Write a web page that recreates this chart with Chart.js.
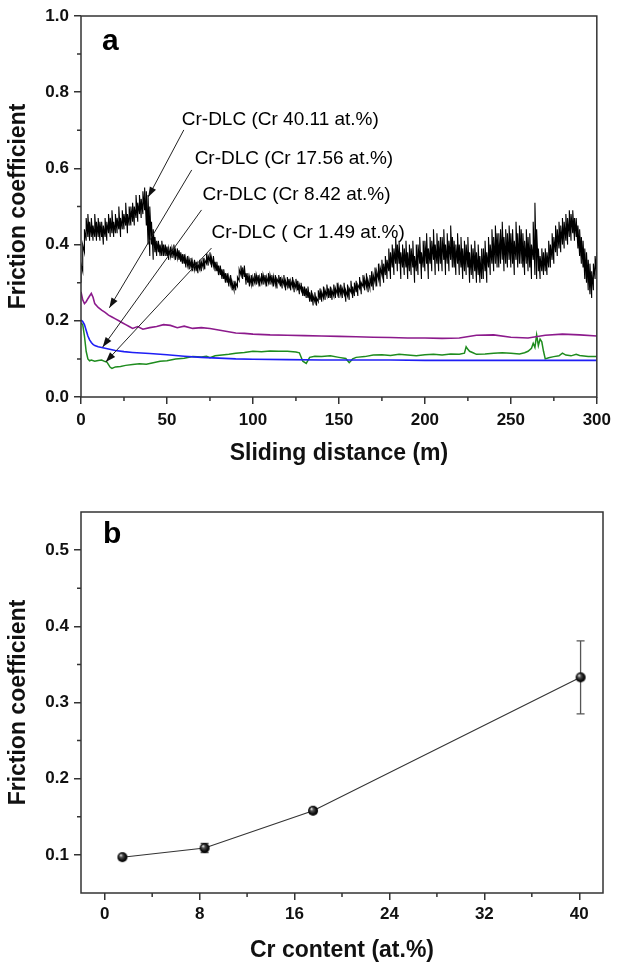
<!DOCTYPE html>
<html><head><meta charset="utf-8">
<script src="https://cdn.jsdelivr.net/npm/chart.js@4.4.1/dist/chart.umd.min.js"></script>
<style>
html,body{margin:0;padding:0;background:#fff;overflow:hidden;width:617px;height:962px;}
#ca{position:absolute;left:0;top:0;}
#cb{position:absolute;left:0;top:482px;}
</style></head><body>
<canvas id="ca" width="617" height="480"></canvas>
<canvas id="cb" width="617" height="482"></canvas>
<script>
// ---------- Panel (a) data: friction coefficient vs sliding distance ----------
// Cr 40.11 at.% trace: per-metre lower / upper envelope of the noisy signal
const blackStep = 1;
const black40Lo = [
0.30,0.33,0.38,0.41,0.42,0.41,0.42,0.41,0.42,0.41,
0.42,0.41,0.42,0.40,0.42,0.41,0.43,0.42,0.43,0.42,
0.43,0.43,0.44,0.42,0.44,0.44,0.45,0.43,0.45,0.45,
0.46,0.45,0.47,0.46,0.48,0.47,0.48,0.49,0.45,0.40,
0.37,0.40,0.36,0.38,0.37,0.38,0.37,0.37,0.37,0.37,
0.37,0.36,0.37,0.365,0.37,0.36,0.365,0.36,0.355,0.35,
0.35,0.34,0.345,0.335,0.34,0.33,0.335,0.33,0.325,0.335,
0.33,0.34,0.335,0.35,0.345,0.355,0.34,0.345,0.33,0.33,
0.32,0.32,0.31,0.31,0.30,0.30,0.29,0.295,0.28,0.28,
0.28,0.29,0.305,0.32,0.31,0.315,0.295,0.30,0.29,0.295,
0.29,0.30,0.295,0.30,0.29,0.30,0.295,0.30,0.29,0.30,
0.295,0.30,0.29,0.295,0.285,0.30,0.29,0.285,0.295,0.28,
0.29,0.285,0.28,0.29,0.275,0.285,0.28,0.27,0.28,0.265,
0.265,0.26,0.26,0.25,0.25,0.24,0.25,0.24,0.25,0.255,
0.25,0.26,0.255,0.265,0.26,0.26,0.255,0.265,0.26,0.27,
0.26,0.27,0.26,0.27,0.25,0.265,0.255,0.275,0.26,0.265,
0.275,0.265,0.285,0.27,0.29,0.28,0.29,0.275,0.285,0.29,
0.28,0.30,0.29,0.31,0.29,0.32,0.30,0.32,0.31,0.33,
0.31,0.34,0.32,0.35,0.33,0.35,0.31,0.34,0.32,0.34,
0.31,0.33,0.32,0.34,0.30,0.33,0.32,0.35,0.31,0.34,
0.33,0.35,0.31,0.35,0.33,0.36,0.32,0.35,0.33,0.35,
0.33,0.36,0.32,0.35,0.33,0.36,0.34,0.34,0.32,0.35,
0.32,0.34,0.31,0.33,0.32,0.34,0.30,0.32,0.31,0.33,
0.30,0.32,0.30,0.31,0.31,0.33,0.30,0.34,0.32,0.35,
0.33,0.35,0.34,0.34,0.35,0.36,0.33,0.35,0.34,0.36,
0.34,0.35,0.32,0.36,0.34,0.35,0.35,0.34,0.32,0.35,
0.33,0.34,0.31,0.36,0.32,0.31,0.33,0.31,0.33,0.32,
0.33,0.32,0.34,0.34,0.36,0.35,0.38,0.37,0.39,0.38,
0.40,0.39,0.41,0.40,0.42,0.41,0.43,0.41,0.42,0.39,
0.37,0.35,0.34,0.31,0.30,0.28,0.27,0.26,0.28,0.31,
0.32];
const black40Hi = [
0.35,0.40,0.44,0.47,0.48,0.46,0.47,0.45,0.48,0.46,
0.47,0.46,0.46,0.45,0.47,0.46,0.48,0.47,0.49,0.46,
0.48,0.47,0.50,0.47,0.49,0.48,0.51,0.48,0.50,0.50,
0.51,0.50,0.53,0.51,0.53,0.52,0.54,0.55,0.54,0.53,
0.50,0.46,0.44,0.42,0.41,0.41,0.40,0.41,0.40,0.40,
0.395,0.39,0.395,0.39,0.40,0.385,0.39,0.385,0.38,0.375,
0.375,0.365,0.37,0.36,0.365,0.355,0.36,0.355,0.35,0.36,
0.355,0.365,0.36,0.375,0.37,0.38,0.365,0.37,0.355,0.355,
0.345,0.345,0.335,0.335,0.325,0.325,0.315,0.32,0.30,0.305,
0.30,0.315,0.335,0.345,0.34,0.345,0.325,0.325,0.315,0.32,
0.315,0.325,0.32,0.32,0.315,0.325,0.32,0.32,0.315,0.325,
0.32,0.32,0.315,0.32,0.31,0.32,0.315,0.31,0.32,0.305,
0.315,0.31,0.305,0.315,0.30,0.31,0.305,0.295,0.30,0.29,
0.29,0.285,0.29,0.275,0.28,0.265,0.275,0.26,0.28,0.285,
0.275,0.29,0.28,0.295,0.285,0.29,0.28,0.295,0.285,0.30,
0.29,0.295,0.285,0.30,0.28,0.295,0.285,0.305,0.29,0.30,
0.305,0.295,0.315,0.30,0.32,0.31,0.325,0.305,0.32,0.33,
0.32,0.34,0.33,0.35,0.34,0.36,0.35,0.37,0.36,0.39,
0.38,0.40,0.39,0.42,0.40,0.41,0.38,0.40,0.39,0.41,
0.38,0.40,0.39,0.41,0.37,0.40,0.40,0.42,0.38,0.41,
0.41,0.43,0.39,0.42,0.41,0.44,0.40,0.43,0.41,0.42,
0.42,0.44,0.40,0.43,0.41,0.45,0.42,0.41,0.40,0.43,
0.40,0.42,0.39,0.41,0.40,0.42,0.38,0.40,0.39,0.41,
0.38,0.40,0.37,0.39,0.39,0.41,0.38,0.42,0.40,0.44,
0.42,0.45,0.43,0.43,0.44,0.46,0.42,0.44,0.43,0.45,
0.43,0.44,0.41,0.46,0.43,0.45,0.44,0.43,0.41,0.44,
0.42,0.43,0.40,0.46,0.51,0.44,0.39,0.37,0.39,0.38,
0.39,0.38,0.41,0.40,0.43,0.42,0.45,0.44,0.46,0.45,
0.47,0.46,0.48,0.47,0.49,0.48,0.49,0.47,0.47,0.45,
0.44,0.42,0.41,0.39,0.38,0.36,0.35,0.33,0.35,0.37,
0.38];

const purple17X = [0,1,2,3,4,5,6,7,8,10,12,14,16,18,20,22,24,26,28,30,33,36,40,44,48,52,56,60,65,70,75,80,85,90,95,100,110,120,130,140,150,160,170,180,190,200,210,220,230,240,250,260,270,280,290,300];
const purple17Y = [0.276,0.255,0.245,0.25,0.258,0.265,0.272,0.262,0.245,0.235,0.228,0.222,0.215,0.21,0.205,0.20,0.195,0.19,0.185,0.18,0.185,0.178,0.182,0.185,0.19,0.188,0.182,0.186,0.18,0.182,0.18,0.176,0.172,0.168,0.167,0.165,0.163,0.162,0.161,0.16,0.159,0.158,0.157,0.156,0.155,0.155,0.154,0.155,0.162,0.163,0.157,0.155,0.162,0.165,0.163,0.160];

const blue8X = [0,1,2,3,4,5,6,7,8,10,12,14,16,20,25,30,40,50,60,70,80,90,100,120,140,160,180,200,220,240,260,280,300];
const blue8Y = [0.202,0.198,0.19,0.175,0.16,0.15,0.143,0.138,0.135,0.132,0.13,0.128,0.126,0.122,0.119,0.117,0.114,0.111,0.107,0.104,0.102,0.1,0.099,0.098,0.097,0.097,0.097,0.096,0.096,0.096,0.096,0.096,0.096];

const green1X = [0,1,2,3,4,5,6,8,10,12,14,15,16,17,18,20,23,26,30,34,38,42,46,50,55,60,65,70,73,75,78,82,86,90,95,100,105,110,115,120,125,127,129,131,133,136,140,145,150,154,156,158,160,165,170,175,180,185,190,195,200,205,210,215,220,223,224,225,226,228,230,235,240,245,250,255,258,260,262,263,264,265,266,267,268,269,270,272,275,278,280,282,285,288,290,295,300];
const green1Y = [0.194,0.19,0.16,0.12,0.10,0.095,0.097,0.094,0.096,0.097,0.093,0.092,0.085,0.078,0.075,0.079,0.08,0.083,0.085,0.087,0.086,0.09,0.094,0.095,0.10,0.102,0.106,0.105,0.107,0.103,0.108,0.11,0.112,0.115,0.117,0.12,0.119,0.121,0.12,0.12,0.118,0.116,0.094,0.088,0.104,0.107,0.106,0.108,0.104,0.101,0.09,0.1,0.104,0.106,0.11,0.111,0.109,0.112,0.11,0.108,0.111,0.112,0.11,0.113,0.112,0.115,0.132,0.125,0.12,0.116,0.112,0.113,0.115,0.116,0.115,0.113,0.116,0.12,0.128,0.141,0.13,0.163,0.135,0.152,0.145,0.12,0.10,0.103,0.106,0.108,0.115,0.11,0.108,0.112,0.109,0.106,0.106];

const aXMajor = [0,50,100,150,200,250,300];
const aXMinor = [25,75,125,175,225,275];
const aYMajor = [0,0.2,0.4,0.6,0.8,1.0];
const aYMinor = [0.1,0.3,0.5,0.7,0.9];
const aLabels = ["Cr-DLC (Cr 40.11 at.%)","Cr-DLC (Cr 17.56 at.%)","Cr-DLC (Cr 8.42 at.%)","Cr-DLC ( Cr 1.49 at.%)"];

// ---------- Panel (b) data: friction coefficient vs Cr content ----------
const crContent = [1.49, 8.42, 17.56, 40.11];
const crFriction = [0.097, 0.109, 0.158, 0.333];
const crError = [0.002, 0.006, 0.003, 0.048];
const bXMajor = [0,8,16,24,32,40];
const bXMinor = [4,12,20,28,36];
const bYMajor = [0.1,0.2,0.3,0.4,0.5];
const bYMinor = [0.15,0.25,0.35,0.45];

// ---------- helpers ----------
const FONT = "'Liberation Sans', Arial, Helvetica, sans-serif";
const AX = '#333';
const pts = (xs, ys) => xs.map((x, i) => ({x: x, y: ys[i]}));
const blackPts = [];
black40Lo.forEach((lo, i) => {
  blackPts.push({x: i * blackStep, y: lo});
  blackPts.push({x: i * blackStep, y: black40Hi[i]});
});

const frameTicks = {
  id: 'frameTicks',
  afterDraw(chart, args, o) {
    const ctx = chart.ctx, a = chart.chartArea, xs = chart.scales.x, ys = chart.scales.y;
    ctx.save();
    ctx.strokeStyle = AX; ctx.lineWidth = 1.5;
    ctx.beginPath();
    o.xMinor.forEach(v => { const p = xs.getPixelForValue(v); ctx.moveTo(p, a.bottom); ctx.lineTo(p, a.bottom + 4); });
    o.yMinor.forEach(v => { const p = ys.getPixelForValue(v); ctx.moveTo(a.left, p); ctx.lineTo(a.left - 4, p); });
    ctx.stroke();
    ctx.strokeRect(a.left, a.top, a.right - a.left, a.bottom - a.top);
    ctx.fillStyle = '#000';
    ctx.font = 'bold 30px ' + FONT;
    ctx.textAlign = 'left'; ctx.textBaseline = 'alphabetic';
    ctx.fillText(o.letter, a.left + o.lx, a.top + o.ly);
    ctx.restore();
  }
};

const arrows = {
  id: 'arrows',
  afterDatasetsDraw(chart, args, o) {
    if (!o.items) return;
    const ctx = chart.ctx, xs = chart.scales.x, ys = chart.scales.y;
    ctx.save();
    ctx.font = '19px ' + FONT; ctx.fillStyle = '#000';
    ctx.textAlign = 'left'; ctx.textBaseline = 'middle';
    o.items.forEach((it, i) => {
      ctx.fillText(aLabels[i], xs.getPixelForValue(it.t[0]), ys.getPixelForValue(it.t[1]));
      const x1 = xs.getPixelForValue(it.s[0]), y1 = ys.getPixelForValue(it.s[1]);
      const x2 = xs.getPixelForValue(it.e[0]), y2 = ys.getPixelForValue(it.e[1]);
      ctx.strokeStyle = '#222'; ctx.lineWidth = 1;
      ctx.beginPath(); ctx.moveTo(x1, y1); ctx.lineTo(x2, y2); ctx.stroke();
      const ang = Math.atan2(y2 - y1, x2 - x1), L = 10, W = 3.5;
      const bx = x2 - L * Math.cos(ang), by = y2 - L * Math.sin(ang);
      ctx.fillStyle = '#111';
      ctx.beginPath(); ctx.moveTo(x2, y2);
      ctx.lineTo(bx + W * Math.sin(ang), by - W * Math.cos(ang));
      ctx.lineTo(bx - W * Math.sin(ang), by + W * Math.cos(ang));
      ctx.closePath(); ctx.fill();
      ctx.fillStyle = '#000';
    });
    ctx.restore();
  }
};

const errBars = {
  id: 'errBars',
  beforeDatasetsDraw(chart) {
    const ctx = chart.ctx, xs = chart.scales.x, ys = chart.scales.y;
    ctx.save(); ctx.strokeStyle = '#555'; ctx.lineWidth = 1.3;
    crContent.forEach((c, i) => {
      const e = crError[i]; const px = xs.getPixelForValue(c);
      const t = ys.getPixelForValue(crFriction[i] + e), b = ys.getPixelForValue(crFriction[i] - e);
      ctx.beginPath();
      ctx.moveTo(px, t); ctx.lineTo(px, b);
      ctx.moveTo(px - 4, t); ctx.lineTo(px + 4, t);
      ctx.moveTo(px - 4, b); ctx.lineTo(px + 4, b);
      ctx.stroke();
    });
    ctx.restore();
  }
};

function sphere(r) {
  const c = document.createElement('canvas'); c.width = c.height = 2 * r + 2;
  const g = c.getContext('2d'); const cx = r + 1, cy = r + 1;
  const grad = g.createRadialGradient(cx - r * 0.35, cy - r * 0.4, 0.3, cx, cy, r);
  grad.addColorStop(0, '#f4f4f4'); grad.addColorStop(0.28, '#555'); grad.addColorStop(0.7, '#111'); grad.addColorStop(1, '#000');
  g.fillStyle = grad; g.beginPath(); g.arc(cx, cy, r, 0, Math.PI * 2); g.fill();
  return c;
}

function axisX(min, max, major, titleText, pad, tickPad, h, fmt) {
  return {
    type: 'linear', min: min, max: max,
    afterBuildTicks: s => { s.ticks = major.map(v => ({value: v})); },
    afterFit: s => { s.height = h; },
    border: {display: false},
    grid: {display: true, drawOnChartArea: false, drawTicks: true, tickLength: 7, color: AX, lineWidth: 1.5},
    ticks: {color: '#111', font: {family: FONT, size: 17, weight: 'bold'}, padding: tickPad, maxRotation: 0, callback: fmt},
    title: {display: true, text: titleText, color: '#111', font: {family: FONT, size: 23, weight: 'bold'}, padding: {top: 0, bottom: pad}}
  };
}
function axisY(min, max, major, fmt) {
  return {
    type: 'linear', min: min, max: max,
    afterBuildTicks: s => { s.ticks = major.map(v => ({value: v})); },
    afterFit: s => { s.width = 81; },
    border: {display: false},
    grid: {display: true, drawOnChartArea: false, drawTicks: true, tickLength: 7, color: AX, lineWidth: 1.5},
    ticks: {color: '#111', font: {family: FONT, size: 17, weight: 'bold'}, padding: 5, callback: fmt},
    title: {display: true, text: 'Friction coefficient', color: '#111', font: {family: FONT, size: 23, weight: 'bold'}, padding: {top: 5, bottom: 0}}
  };
}

// ---------- Chart (a) ----------
new Chart(document.getElementById('ca'), {
  type: 'line',
  data: {
    datasets: [
      {data: blackPts, borderColor: '#000', borderWidth: 1.1, pointRadius: 0},
      {data: pts(purple17X, purple17Y), borderColor: '#8c1a8c', borderWidth: 1.6, pointRadius: 0},
      {data: pts(blue8X, blue8Y), borderColor: '#1f1ff5', borderWidth: 1.6, pointRadius: 0},
      {data: pts(green1X, green1Y), borderColor: '#1e8c1e', borderWidth: 1.5, pointRadius: 0}
    ]
  },
  options: {
    responsive: false, animation: false, devicePixelRatio: 1,
    layout: {padding: {left: 0, right: 14, top: 16, bottom: 0}},
    scales: {
      x: axisX(0, 300, aXMajor, 'Sliding distance (m)', 13, 6, 83, v => String(v)),
      y: axisY(0, 1, aYMajor, v => v.toFixed(1))
    },
    plugins: {
      legend: {display: false}, tooltip: {enabled: false},
      frameTicks: {xMinor: aXMinor, yMinor: aYMinor, letter: 'a', lx: 21, ly: 34},
      arrows: {items: [
        {t: [58.6, 0.727], s: [59.8, 0.701], e: [39.1, 0.525]},
        {t: [66.1, 0.625], s: [64.4, 0.596], e: [16.5, 0.234]},
        {t: [70.7, 0.530], s: [70.1, 0.491], e: [12.6, 0.131]},
        {t: [75.9, 0.430], s: [75.9, 0.391], e: [14.4, 0.092]}
      ]}
    }
  },
  plugins: [frameTicks, arrows]
});

// ---------- Chart (b) ----------
new Chart(document.getElementById('cb'), {
  type: 'line',
  data: {
    datasets: [{
      data: pts(crContent, crFriction), borderColor: '#333', borderWidth: 1.1,
      pointStyle: sphere(5), pointRadius: 5, tension: 0
    }]
  },
  options: {
    responsive: false, animation: false, devicePixelRatio: 1,
    layout: {padding: {left: 0, right: 14, top: 30, bottom: 0}},
    scales: {
      x: axisX(-2, 42, bXMajor, 'Cr content (at.%)', 0, 4, 71, v => String(v)),
      y: axisY(0.05, 0.55, bYMajor, v => v.toFixed(1))
    },
    plugins: {
      legend: {display: false}, tooltip: {enabled: false},
      frameTicks: {xMinor: bXMinor, yMinor: bYMinor, letter: 'b', lx: 22, ly: 31}
    }
  },
  plugins: [frameTicks, errBars]
});
</script>
</body></html>
